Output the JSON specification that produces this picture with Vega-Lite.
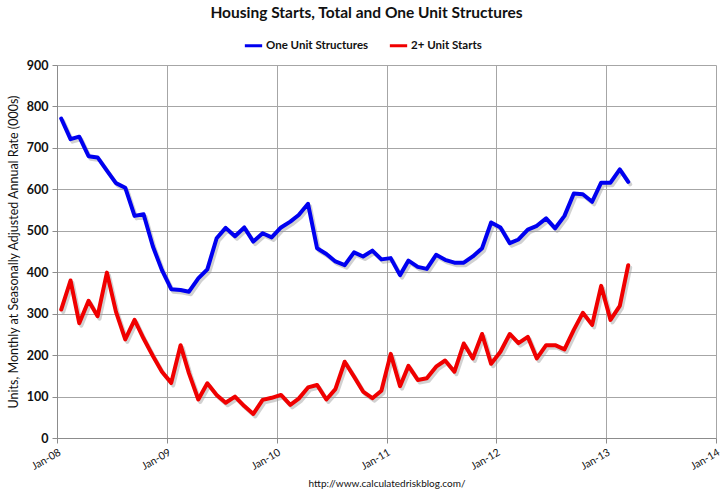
{
  "$schema": "https://vega.github.io/schema/vega-lite/v6.json",
  "autosize": {"type": "none"},
  "width": 659,
  "height": 373,
  "padding": {"left": 57, "top": 65, "right": 9, "bottom": 55},
  "background": "white",
  "title": {
    "text": "Housing Starts, Total and One Unit Structures",
    "font": "Lato",
    "fontSize": 15.5,
    "fontWeight": "bold",
    "color": "#111111",
    "anchor": "middle",
    "dx": -20,
    "offset": 14
  },
  "config": {
    "view": {"stroke": null},
    "font": "Lato"
  },
  "data": {
    "values": [
      {"date": "2008-01-15", "One Unit Structures": 771, "2+ Unit Starts": 310},
      {"date": "2008-02-15", "One Unit Structures": 721, "2+ Unit Starts": 380},
      {"date": "2008-03-15", "One Unit Structures": 727, "2+ Unit Starts": 277},
      {"date": "2008-04-15", "One Unit Structures": 680, "2+ Unit Starts": 331},
      {"date": "2008-05-15", "One Unit Structures": 677, "2+ Unit Starts": 294},
      {"date": "2008-06-15", "One Unit Structures": 645, "2+ Unit Starts": 399},
      {"date": "2008-07-15", "One Unit Structures": 615, "2+ Unit Starts": 305},
      {"date": "2008-08-15", "One Unit Structures": 604, "2+ Unit Starts": 238},
      {"date": "2008-09-15", "One Unit Structures": 536, "2+ Unit Starts": 285},
      {"date": "2008-10-15", "One Unit Structures": 540, "2+ Unit Starts": 240},
      {"date": "2008-11-15", "One Unit Structures": 462, "2+ Unit Starts": 198},
      {"date": "2008-12-15", "One Unit Structures": 405, "2+ Unit Starts": 160},
      {"date": "2009-01-15", "One Unit Structures": 359, "2+ Unit Starts": 133},
      {"date": "2009-02-15", "One Unit Structures": 357, "2+ Unit Starts": 224},
      {"date": "2009-03-15", "One Unit Structures": 353, "2+ Unit Starts": 156},
      {"date": "2009-04-15", "One Unit Structures": 385, "2+ Unit Starts": 93},
      {"date": "2009-05-15", "One Unit Structures": 407, "2+ Unit Starts": 132},
      {"date": "2009-06-15", "One Unit Structures": 482, "2+ Unit Starts": 104},
      {"date": "2009-07-15", "One Unit Structures": 507, "2+ Unit Starts": 85},
      {"date": "2009-08-15", "One Unit Structures": 487, "2+ Unit Starts": 100},
      {"date": "2009-09-15", "One Unit Structures": 508, "2+ Unit Starts": 77},
      {"date": "2009-10-15", "One Unit Structures": 474, "2+ Unit Starts": 58},
      {"date": "2009-11-15", "One Unit Structures": 494, "2+ Unit Starts": 92},
      {"date": "2009-12-15", "One Unit Structures": 484, "2+ Unit Starts": 97},
      {"date": "2010-01-15", "One Unit Structures": 508, "2+ Unit Starts": 104},
      {"date": "2010-02-15", "One Unit Structures": 522, "2+ Unit Starts": 80},
      {"date": "2010-03-15", "One Unit Structures": 538, "2+ Unit Starts": 95},
      {"date": "2010-04-15", "One Unit Structures": 565, "2+ Unit Starts": 122},
      {"date": "2010-05-15", "One Unit Structures": 458, "2+ Unit Starts": 128},
      {"date": "2010-06-15", "One Unit Structures": 444, "2+ Unit Starts": 93},
      {"date": "2010-07-15", "One Unit Structures": 426, "2+ Unit Starts": 118},
      {"date": "2010-08-15", "One Unit Structures": 417, "2+ Unit Starts": 184},
      {"date": "2010-09-15", "One Unit Structures": 448, "2+ Unit Starts": 148},
      {"date": "2010-10-15", "One Unit Structures": 438, "2+ Unit Starts": 112},
      {"date": "2010-11-15", "One Unit Structures": 452, "2+ Unit Starts": 96},
      {"date": "2010-12-15", "One Unit Structures": 431, "2+ Unit Starts": 114},
      {"date": "2011-01-15", "One Unit Structures": 434, "2+ Unit Starts": 203},
      {"date": "2011-02-15", "One Unit Structures": 393, "2+ Unit Starts": 125},
      {"date": "2011-03-15", "One Unit Structures": 428, "2+ Unit Starts": 174},
      {"date": "2011-04-15", "One Unit Structures": 413, "2+ Unit Starts": 140},
      {"date": "2011-05-15", "One Unit Structures": 408, "2+ Unit Starts": 144},
      {"date": "2011-06-15", "One Unit Structures": 442, "2+ Unit Starts": 172},
      {"date": "2011-07-15", "One Unit Structures": 430, "2+ Unit Starts": 187},
      {"date": "2011-08-15", "One Unit Structures": 423, "2+ Unit Starts": 160},
      {"date": "2011-09-15", "One Unit Structures": 423, "2+ Unit Starts": 228},
      {"date": "2011-10-15", "One Unit Structures": 438, "2+ Unit Starts": 192},
      {"date": "2011-11-15", "One Unit Structures": 458, "2+ Unit Starts": 251},
      {"date": "2011-12-15", "One Unit Structures": 520, "2+ Unit Starts": 179},
      {"date": "2012-01-15", "One Unit Structures": 508, "2+ Unit Starts": 208},
      {"date": "2012-02-15", "One Unit Structures": 470, "2+ Unit Starts": 251},
      {"date": "2012-03-15", "One Unit Structures": 479, "2+ Unit Starts": 229},
      {"date": "2012-04-15", "One Unit Structures": 503, "2+ Unit Starts": 244},
      {"date": "2012-05-15", "One Unit Structures": 512, "2+ Unit Starts": 192},
      {"date": "2012-06-15", "One Unit Structures": 530, "2+ Unit Starts": 224},
      {"date": "2012-07-15", "One Unit Structures": 506, "2+ Unit Starts": 224},
      {"date": "2012-08-15", "One Unit Structures": 536, "2+ Unit Starts": 214},
      {"date": "2012-09-15", "One Unit Structures": 590, "2+ Unit Starts": 261},
      {"date": "2012-10-15", "One Unit Structures": 588, "2+ Unit Starts": 302},
      {"date": "2012-11-15", "One Unit Structures": 570, "2+ Unit Starts": 273},
      {"date": "2012-12-15", "One Unit Structures": 616, "2+ Unit Starts": 367},
      {"date": "2013-01-15", "One Unit Structures": 616, "2+ Unit Starts": 285},
      {"date": "2013-02-15", "One Unit Structures": 648, "2+ Unit Starts": 319},
      {"date": "2013-03-15", "One Unit Structures": 618, "2+ Unit Starts": 417}
    ]
  },
  "transform": [
    {"fold": ["One Unit Structures", "2+ Unit Starts"], "as": ["series", "value"]}
  ],
  "encoding": {
    "x": {
      "field": "date",
      "type": "temporal",
      "scale": {
        "type": "utc",
        "domain": [
          {"year": 2008, "month": 1, "date": 1, "utc": true},
          {"year": 2014, "month": 1, "date": 1, "utc": true}
        ],
        "nice": false
      },
      "axis": {
        "title": "http://www.calculatedriskblog.com/",
        "titleFont": "Lato",
        "titleFontSize": 10,
        "titleFontWeight": "normal",
        "titleColor": "#111111",
        "titlePadding": 7,
        "format": "%b-%y",
        "tickCount": {"interval": "year", "step": 1},
        "labelAngle": -30,
        "labelFont": "Lato",
        "labelFontSize": 10.5,
        "labelColor": "#111111",
        "labelPadding": 4,
        "labelOverlap": false,
        "labelFlush": false,
        "grid": true,
        "gridColor": "#a6a6a6",
        "gridWidth": 1,
        "domainColor": "#8c8c8c",
        "tickColor": "#8c8c8c",
        "tickSize": 5
      }
    },
    "y": {
      "field": "value",
      "type": "quantitative",
      "scale": {"domain": [0, 900], "nice": false},
      "axis": {
        "title": "Units, Monthly at Seasonally Adjusted Annual Rate (000s)",
        "titleFont": "Lato",
        "titleFontSize": 12.5,
        "titleFontWeight": "normal",
        "titleColor": "#111111",
        "titlePadding": 6,
        "values": [0, 100, 200, 300, 400, 500, 600, 700, 800, 900],
        "labelFont": "Lato",
        "labelFontSize": 12.5,
        "labelFontWeight": "bold",
        "labelColor": "#111111",
        "labelPadding": 4,
        "grid": true,
        "gridColor": "#a6a6a6",
        "gridWidth": 1,
        "domainColor": "#8c8c8c",
        "tickColor": "#8c8c8c",
        "tickSize": 5
      }
    }
  },
  "layer": [
    {
      "mark": {"type": "line", "strokeWidth": 4, "strokeJoin": "round", "strokeCap": "round", "color": "#9a9a9a", "opacity": 0.45, "xOffset": 2, "yOffset": 2.5},
      "encoding": {"detail": {"field": "series", "type": "nominal"}}
    },
    {
      "mark": {"type": "line", "strokeWidth": 4, "strokeJoin": "round", "strokeCap": "round"},
      "encoding": {
        "color": {
          "field": "series",
          "type": "nominal",
          "scale": {
            "domain": ["One Unit Structures", "2+ Unit Starts"],
            "range": ["#0000f0", "#f00000"]
          },
          "legend": {
            "title": null,
            "orient": "none",
            "legendX": 186,
            "legendY": -30,
            "direction": "horizontal",
            "symbolType": "stroke",
            "symbolStrokeWidth": 3,
            "symbolSize": 300,
            "labelFont": "Lato",
            "labelFontSize": 11.5,
            "labelFontWeight": "bold",
            "labelColor": "#111111",
            "labelOffset": 2,
            "columnPadding": 14
          }
        }
      }
    }
  ]
}
